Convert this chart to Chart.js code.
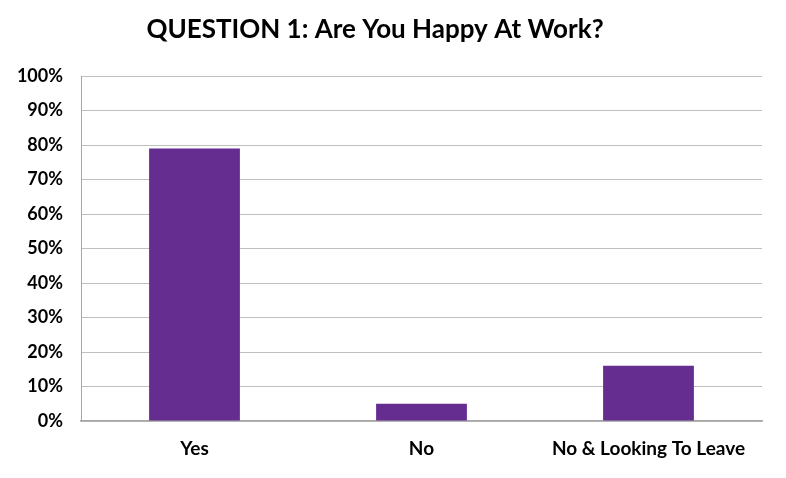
<!DOCTYPE html>
<html>
<head>
<meta charset="utf-8">
<script src="https://cdn.jsdelivr.net/npm/chart.js@4"></script>
<style>
  body { margin: 0; background: #fff; }
  #wrap { width: 786px; height: 478px; }
</style>
</head>
<body>
<div id="wrap"><canvas id="myChart" width="786" height="478"></canvas></div>
<script>
// chart data
const categories = ['Yes', 'No', 'No & Looking To Leave'];
const answerShare = [79, 5, 16];
const tickValues = [0, 10, 20, 30, 40, 50, 60, 70, 80, 90, 100];

const titleText = 'QUESTION 1: Are You Happy At Work?';

// draws the title a bit left of centre like the original
const titlePlugin = {
  id: 'titlePlugin',
  afterDraw(chart) {
    const ctx = chart.ctx;
    ctx.save();
    ctx.font = 'bold 26px Lato';
    ctx.fillStyle = '#000';
    ctx.textAlign = 'center';
    ctx.textBaseline = 'middle';
    ctx.fillText(titleText, 375, 30);
    ctx.restore();
  }
};

const ctx = document.getElementById('myChart').getContext('2d');

const happyChart = new Chart(ctx, {
  type: 'bar',
  data: {
    labels: categories,
    datasets: [{
      label: 'Share',
      data: answerShare,
      backgroundColor: '#662d91',
      barPercentage: 0.4,
      categoryPercentage: 1
    }]
  },
  options: {
    responsive: false,
    animation: false,
    layout: { padding: { top: 76, right: 24, left: 0, bottom: 0 } },
    plugins: {
      legend: { display: false },
      tooltip: { enabled: false }
    },
    scales: {
      x: {
        grid: { display: false, drawTicks: false },
        border: { color: '#a6a6a6', width: 1.5 },
        ticks: {
          color: '#000',
          padding: 16,
          font: { family: 'Lato', weight: 'bold', size: 19 }
        },
        afterFit(scale) { scale.height = 57; }
      },
      y: {
        min: 0,
        max: 100,
        afterBuildTicks(scale) {
          scale.ticks = tickValues.map(v => ({ value: v }));
        },
        grid: { color: '#bfbfbf', drawTicks: false },
        border: { color: '#a6a6a6', width: 1 },
        ticks: {
          color: '#000',
          padding: 18,
          font: { family: 'Lato', weight: 'bold', size: 18 },
          callback: v => v + '%'
        },
        afterFit(scale) { scale.width = 81; }
      }
    }
  },
  plugins: [titlePlugin]
});
</script>
</body>
</html>
